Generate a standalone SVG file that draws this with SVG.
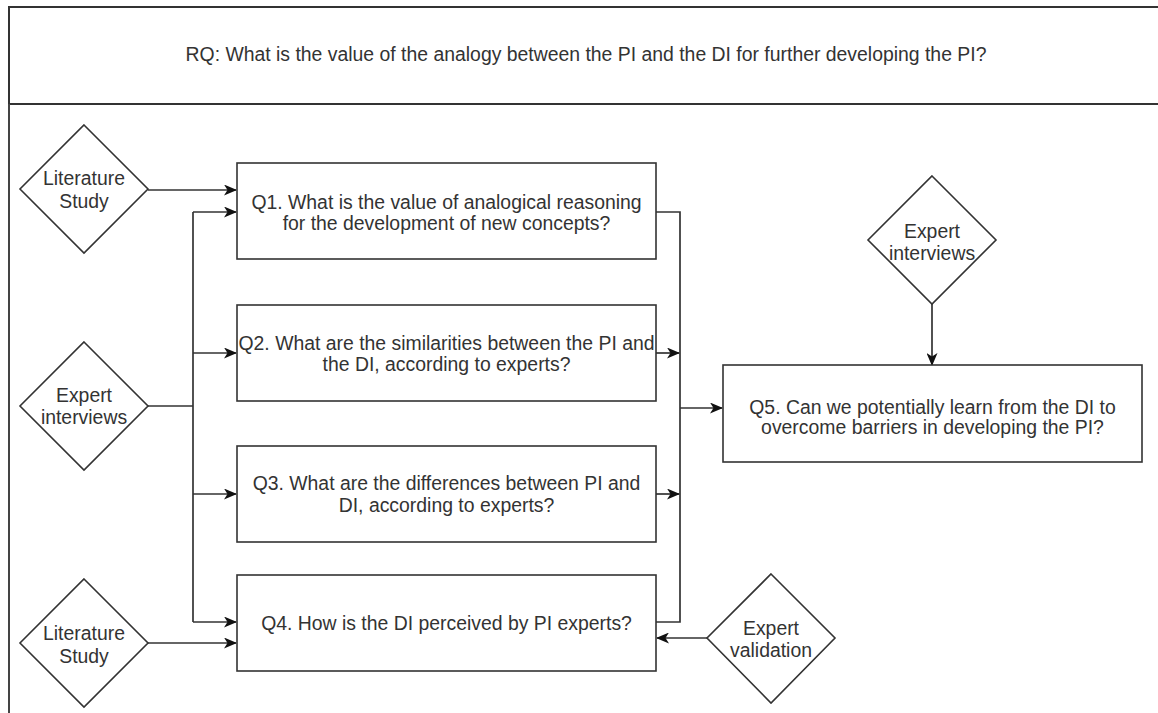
<svg xmlns="http://www.w3.org/2000/svg" width="1158" height="713" viewBox="0 0 1158 713">
  <defs>
    <style>
      .shape { fill: #ffffff; stroke: #333333; stroke-width: 1.6; }
      .frame { fill: #ffffff; stroke: #333333; stroke-width: 2; }
      .label { font-family: "Liberation Sans", Arial, sans-serif; font-size: 19.4px; fill: #333333; text-anchor: middle; dominant-baseline: central; }
      .wire { fill: none; stroke: #333333; stroke-width: 1.7; }
      .arrow { fill: none; stroke: #333333; stroke-width: 1.7; marker-end: url(#head); }
    </style>
    <marker id="head" viewBox="0 0 13 11" refX="12" refY="5.5" markerWidth="13" markerHeight="11" markerUnits="userSpaceOnUse" orient="auto">
      <path d="M0,0 L13,5.5 L0,11 L3.5,5.5 Z" fill="#111111"/>
    </marker>
  </defs>

  <rect width="1158" height="713" fill="#ffffff"/>

  <!-- research question header -->
  <g id="rq">
    <rect class="frame" x="9" y="7" width="1170" height="97"/>
    <line x1="9" y1="104" x2="9" y2="713" stroke="#444444" stroke-width="2"/>
    <text class="label" x="586" y="54">RQ: What is the value of the analogy between the PI and the DI for further developing the PI?</text>
  </g>

  <!-- connectors -->
  <g id="connectors">
    <line class="arrow" x1="148" y1="190" x2="236" y2="190"/>
    <polyline class="wire" points="148,406 193,406"/>
    <line class="wire" x1="193" y1="212" x2="193" y2="622"/>
    <line class="arrow" x1="193" y1="212" x2="236" y2="212"/>
    <line class="arrow" x1="193" y1="353" x2="236" y2="353"/>
    <line class="arrow" x1="193" y1="494" x2="236" y2="494"/>
    <line class="arrow" x1="193" y1="622" x2="236" y2="622"/>
    <line class="arrow" x1="148" y1="643" x2="236" y2="643"/>
    <polyline class="wire" points="656,212 680,212 680,622 656,622"/>
    <line class="arrow" x1="656" y1="353" x2="679" y2="353"/>
    <line class="arrow" x1="656" y1="494" x2="679" y2="494"/>
    <line class="arrow" x1="680" y1="408" x2="722" y2="408"/>
    <line class="arrow" x1="932" y1="304" x2="932" y2="365"/>
    <line class="arrow" x1="707" y1="638" x2="657" y2="638"/>
  </g>

  <!-- methods -->
  <g id="literature-study-1">
    <polygon class="shape" points="84,125 148,189 84,253 20,189"/>
    <text class="label" x="84" y="178">Literature</text>
    <text class="label" x="84" y="201">Study</text>
  </g>
  <g id="expert-interviews-1">
    <polygon class="shape" points="84,342 148,406 84,470 20,406"/>
    <text class="label" x="84" y="395">Expert</text>
    <text class="label" x="84" y="417">interviews</text>
  </g>
  <g id="literature-study-2">
    <polygon class="shape" points="84,579 148,643 84,707 20,643"/>
    <text class="label" x="84" y="633">Literature</text>
    <text class="label" x="84" y="656">Study</text>
  </g>
  <g id="expert-interviews-2">
    <polygon class="shape" points="932,176 996,240 932,304 868,240"/>
    <text class="label" x="932" y="231">Expert</text>
    <text class="label" x="932" y="253">interviews</text>
  </g>
  <g id="expert-validation">
    <polygon class="shape" points="771,574 835,638 771,703 707,638"/>
    <text class="label" x="771" y="628">Expert</text>
    <text class="label" x="771" y="650">validation</text>
  </g>

  <!-- sub-questions -->
  <g id="q1">
    <rect class="shape" x="237" y="163" width="419" height="96"/>
    <text class="label" x="446.5" y="202">Q1. What is the value of analogical reasoning</text>
    <text class="label" x="446.5" y="223">for the development of new concepts?</text>
  </g>
  <g id="q2">
    <rect class="shape" x="237" y="305" width="419" height="96"/>
    <text class="label" x="446.5" y="343">Q2. What are the similarities between the PI and</text>
    <text class="label" x="446.5" y="364">the DI, according to experts?</text>
  </g>
  <g id="q3">
    <rect class="shape" x="237" y="446" width="419" height="96"/>
    <text class="label" x="446.5" y="483">Q3. What are the differences between PI and</text>
    <text class="label" x="446.5" y="505">DI, according to experts?</text>
  </g>
  <g id="q4">
    <rect class="shape" x="237" y="575" width="419" height="96"/>
    <text class="label" x="446.5" y="623">Q4. How is the DI perceived by PI experts?</text>
  </g>
  <g id="q5">
    <rect class="shape" x="723" y="365" width="419" height="97"/>
    <text class="label" x="932.5" y="407">Q5. Can we potentially learn from the DI to</text>
    <text class="label" x="932.5" y="427">overcome barriers in developing the PI?</text>
  </g>
</svg>
